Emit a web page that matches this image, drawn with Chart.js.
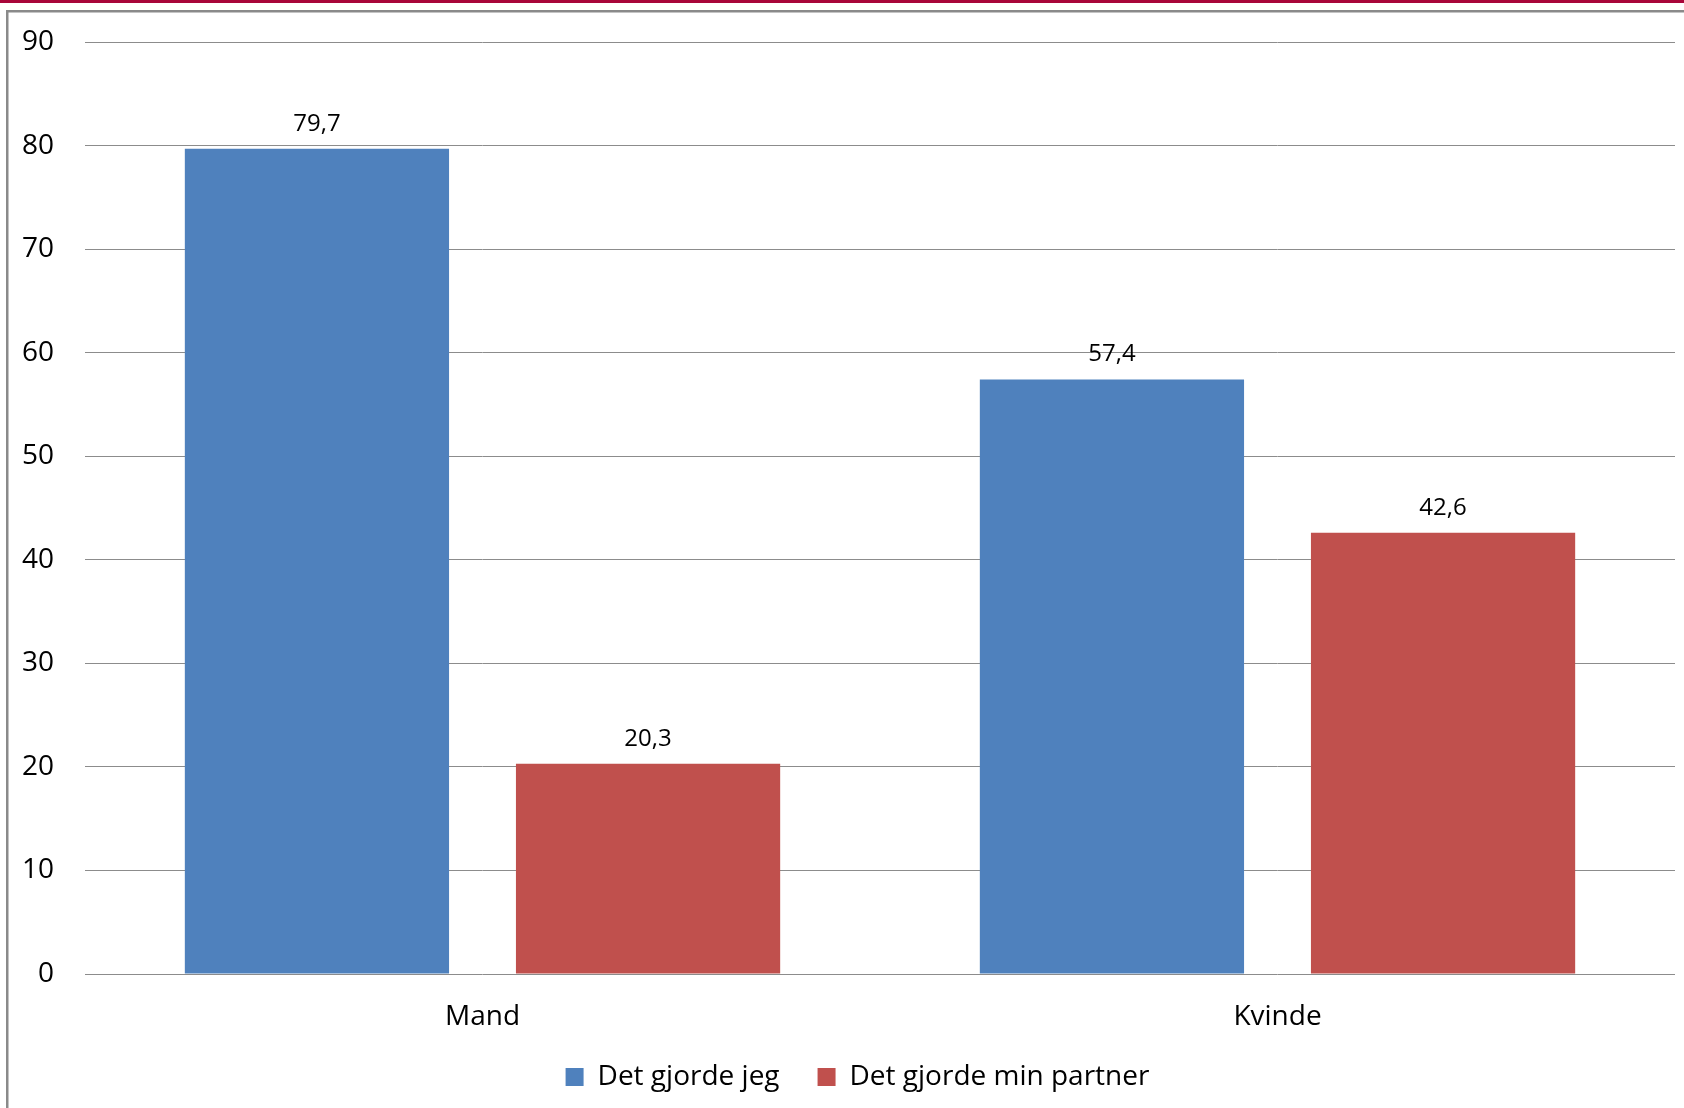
<!DOCTYPE html>
<html>
<head>
<meta charset="utf-8">
<style>
  html, body { margin: 0; padding: 0; background: #fff; }
  #wrap { width: 1684px; height: 1108px; }
</style>
<script src="https://cdn.jsdelivr.net/npm/chart.js@4/dist/chart.umd.min.js"></script>
</head>
<body>
<div id="wrap"><canvas id="chart" width="1684" height="1108"></canvas></div>
<script>
// Chart data
const categories = ["Mand", "Kvinde"];
const seriesNames = ["Det gjorde jeg", "Det gjorde min partner"];
const jegValues = [79.7, 57.4];
const partnerValues = [20.3, 42.6];
const yTicks = [0, 10, 20, 30, 40, 50, 60, 70, 80, 90];

const FONT = "'Open Sans', sans-serif";

// Frame: red strip on top and grey border
const framePlugin = {
  id: "frame",
  beforeDraw(chart) {
    const ctx = chart.ctx;
    ctx.save();
    ctx.fillStyle = "#ffffff";
    ctx.fillRect(0, 0, chart.width, chart.height);
    ctx.fillStyle = "#a8063a";
    ctx.fillRect(0, 0, chart.width, 3);
    ctx.fillStyle = "#8a8a8a";
    ctx.fillRect(6, 10, chart.width - 6, 2.5);
    ctx.fillRect(6, 10, 2.5, chart.height - 10);
    ctx.restore();
  },
  // legend sits a little right of centre in the original
  afterLayout(chart) {
    if (chart.legend) {
      chart.legend.left += 20;
      chart.legend.right += 20;
    }
  },
};

// Value labels above each bar
const valueLabels = {
  id: "valueLabels",
  afterDatasetsDraw(chart) {
    const ctx = chart.ctx;
    ctx.save();
    ctx.font = "24px " + FONT;
    ctx.fillStyle = "#000";
    ctx.textAlign = "center";
    ctx.textBaseline = "middle";
    chart.data.datasets.forEach((ds, i) => {
      chart.getDatasetMeta(i).data.forEach((bar, j) => {
        const txt = ds.data[j].toFixed(1).replace(".", ",");
        ctx.fillText(txt, bar.x, bar.y - 25);
      });
    });
    ctx.restore();
  },
};

new Chart(document.getElementById("chart"), {
  type: "bar",
  data: {
    labels: categories,
    datasets: [
      {
        label: seriesNames[0],
        data: jegValues,
        backgroundColor: "#4f81bd",
      },
      {
        label: seriesNames[1],
        data: partnerValues,
        backgroundColor: "#c0504d",
      },
    ],
  },
  options: {
    responsive: false,
    animation: false,
    devicePixelRatio: 1,
    datasets: {
      bar: { categoryPercentage: 0.833, barPercentage: 0.798 },
    },
    layout: {
      padding: { top: 42, right: 9, left: 0, bottom: 7 },
    },
    scales: {
      x: {
        grid: { display: false },
        border: { display: false },
        ticks: {
          color: "#000",
          font: { family: FONT, size: 28 },
          padding: 18,
        },
        afterFit(scale) {
          scale.height = 51;
        },
      },
      y: {
        min: 0,
        max: 90,
        afterBuildTicks(scale) {
          scale.ticks = yTicks.map((v) => ({ value: v }));
        },
        grid: { color: "#8c8c8c", lineWidth: 1, drawTicks: false },
        border: { display: false },
        ticks: {
          color: "#000",
          font: { family: FONT, size: 28 },
          padding: 31,
        },
        afterFit(scale) {
          scale.width = 85;
          scale.paddingTop = 0;
          scale.paddingBottom = 0;
        },
      },
    },
    plugins: {
      legend: {
        position: "bottom",
        labels: {
          color: "#000",
          font: { family: FONT, size: 28 },
          boxWidth: 18,
          boxHeight: 18,
          padding: 38,
        },
      },
      tooltip: { enabled: false },
    },
  },
  plugins: [framePlugin, valueLabels],
});
</script>
</body>
</html>
